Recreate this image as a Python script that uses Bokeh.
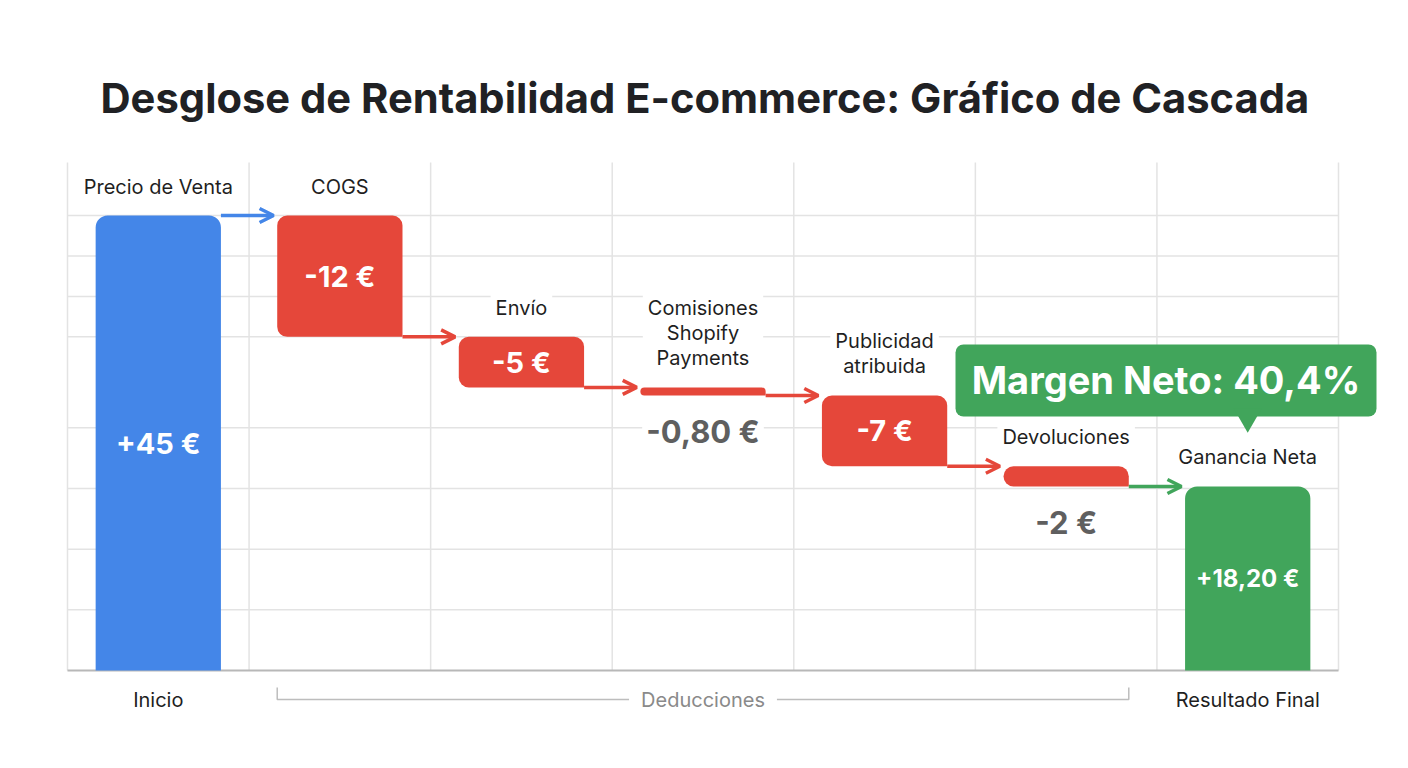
from bokeh.plotting import figure
from bokeh.models import ColumnDataSource, Range1d, Arrow, OpenHead
from bokeh.embed import file_html
from bokeh.resources import INLINE
from bokeh.core.properties import value

# ---------------- data ----------------
categories = ["Precio de Venta", "COGS", "Envío", "Comisiones\nShopify\nPayments",
              "Publicidad\natribuida", "Devoluciones", "Ganancia Neta"]
amounts = [45.0, -12.0, -5.0, -0.80, -7.0, -2.0, 18.20]
step_kind = ["total", "delta", "delta", "delta", "delta", "delta", "total"]
group_labels = ["Inicio", "Deducciones", "Resultado Final"]
group_first = [0, 1, 6]
group_last = [0, 5, 6]
grid_values = [6, 12, 18, 24, 33, 37, 41, 45]
title_text = "Desglose de Rentabilidad E-commerce: Gráfico de Cascada"
margin_prefix = "Margen Neto: "

# ---------------- style ----------------
BLUE, RED, GREEN = "#4486E8", "#E5473A", "#41A55B"
DARK, GREY_TXT, LIGHT_TXT = "#1F1F1F", "#5F5F5F", "#8A8A8A"
GRID, AXIS = "#E3E3E3", "#B8B8B8"
FONT = "Inter"

W, H = 1392, 752
FL, FR, FT, FB = 57, 1380, 150, 722          # frame box (px)
X0_PX, X7_PX = 67, 1338                       # category area (px)
BASE_PX, TALL_PX = 670, 215                   # y=0 and tallest bar top (px)
GRID_TOP_PX = 162
TITLE_LEFT_PX = 100
BAR_W = 0.69

n = len(categories)
px_x = (X7_PX - X0_PX) / n

# running totals
bottoms, tops, levels = [], [], []
running = 0.0
for a, k in zip(amounts, step_kind):
    if k == "total":
        b, t = 0.0, a
        running = a
    else:
        b, t = min(running, running + a), max(running, running + a)
        running = running + a
    bottoms.append(b)
    tops.append(t)
    levels.append(running)

px_y = (BASE_PX - TALL_PX) / max(tops)
x_start = (FL - X0_PX) / px_x
x_end = (FR - X0_PX) / px_x
y_start = (BASE_PX - FB) / px_y
y_end = (BASE_PX - FT) / px_y


def euro(v, plus):
    body = f"{int(abs(v))}" if float(v).is_integer() else f"{abs(v):.2f}".replace(".", ",")
    sign = "-" if v < 0 else ("+" if plus else "")
    return f"{sign}{body} €"


colors = []
for i, k in enumerate(step_kind):
    if k == "delta":
        colors.append(RED)
    else:
        colors.append(BLUE if i == 0 else GREEN)

xs = [i + 0.5 for i in range(n)]
labels = [euro(a, k == "total") for a, k in zip(amounts, step_kind)]

p = figure(width=W, height=H, x_range=Range1d(x_start, x_end), y_range=Range1d(y_start, y_end),
           x_axis_location=None, y_axis_location=None, toolbar_location=None,
           output_backend="svg", min_border_left=FL, min_border_right=W - FR,
           min_border_top=FT, min_border_bottom=H - FB, outline_line_color=None,
           background_fill_color="white", border_fill_color="white")
p.grid.visible = False

p.title.text = title_text
p.title.align = "left"
p.title.offset = TITLE_LEFT_PX - FL
p.title.text_font = FONT
p.title.text_font_size = "41.7px"
p.title.text_font_style = "bold"
p.title.text_color = "#202124"
p.title.standoff = 56

# grid & axis line
grid_top = (BASE_PX - GRID_TOP_PX) / px_y
p.segment(x0=list(range(n + 1)), y0=0, x1=list(range(n + 1)), y1=grid_top,
          line_color=GRID, line_width=1.5)
p.segment(x0=0, y0=grid_values, x1=n, y1=grid_values, line_color=GRID, line_width=1.5)
p.segment(x0=0, y0=0, x1=n, y1=0, line_color=AXIS, line_width=2)

# bars
rows = dict(x=xs, bottom=bottoms, top=tops, color=colors, kind=step_kind)
tot_idx = [i for i in range(n) if step_kind[i] == "total"]
del_idx = [i for i in range(n) if step_kind[i] == "delta"]
src_tot = ColumnDataSource({k: [v[i] for i in tot_idx] for k, v in rows.items()})
src_del = ColumnDataSource({k: [v[i] for i in del_idx] for k, v in rows.items()})
p.vbar(x="x", bottom="bottom", top="top", width=BAR_W, fill_color="color", line_color=None,
       border_radius=(12, 12, 0, 0), source=src_tot)
p.vbar(x="x", bottom="bottom", top="top", width=BAR_W, fill_color="color", line_color=None,
       border_radius=(10, 10, 0, 10), source=src_del)

# connector arrows
half = BAR_W / 2
for i in range(n - 1):
    col = colors[i + 1] if step_kind[i + 1] == "total" else colors[i]
    p.add_layout(Arrow(x_start=xs[i] + half, y_start=levels[i],
                       x_end=xs[i + 1] - half - 0.02, y_end=levels[i],
                       line_color=col, line_width=3.5,
                       end=OpenHead(size=14, line_color=col, line_width=3.5)))

# category labels above bars
p.text(x=xs, y=tops, text=categories, y_offset=-12, text_align="center",
       text_baseline="bottom", text_font=value(FONT), text_font_size="20px",
       text_color=DARK, text_line_height=1.05, background_fill_color="white", padding=5)

# value labels
inside = [i for i in range(n) if (tops[i] - bottoms[i]) * px_y >= 40]
outside = [i for i in range(n) if i not in inside]
p.text(x=[xs[i] for i in inside], y=[(tops[i] + bottoms[i]) / 2 for i in inside],
       text=[labels[i] for i in inside],
       text_font_size=["29px" if len(labels[i]) <= 5 else "24px" for i in inside],
       text_align="center", text_baseline="middle", text_font=value(FONT),
       text_font_style="bold", text_color="white")
p.text(x=[xs[i] for i in outside], y=[bottoms[i] for i in outside],
       text=[labels[i] for i in outside], y_offset=14, text_align="center",
       text_baseline="top", text_font=value(FONT), text_font_style="bold",
       text_font_size="31px", text_color=GREY_TXT, background_fill_color="white", padding=4)

# group labels below axis + bracket
line_y = -29 / px_y
tick_y = -17 / px_y
for lab, f, l in zip(group_labels, group_first, group_last):
    cx = (xs[f] + xs[l]) / 2
    if f != l:
        xl, xr = xs[f] - half, xs[l] + half
        p.line(x=[xl, xl, xr, xr], y=[tick_y, line_y, line_y, tick_y],
               line_color="#BDBDBD", line_width=1.5)
        p.text(x=[cx], y=[0], text=[lab], y_offset=29, text_align="center",
               text_baseline="middle", text_font=value(FONT), text_font_size="20px",
               text_color=LIGHT_TXT, background_fill_color="white", padding=12)
    else:
        p.text(x=[cx], y=[0], text=[lab], y_offset=29, text_align="center",
               text_baseline="middle", text_font=value(FONT), text_font_size="20px",
               text_color=DARK)

# net margin badge
margin_pct = 100 * amounts[-1] / amounts[0]
badge_text = margin_prefix + f"{margin_pct:.1f}".replace(".", ",") + "%"
badge_cx = xs[-1] - 0.45
badge_w = 421 / px_x
badge_bottom = tops[-1] + 70 / px_y
badge_top = badge_bottom + 72 / px_y
p.quad(left=[badge_cx - badge_w / 2], right=[badge_cx + badge_w / 2],
       bottom=[badge_bottom], top=[badge_top], fill_color=GREEN, line_color=None,
       border_radius=8)
p.scatter(x=[xs[-1]], y=[badge_bottom], marker="inverted_triangle", size=28,
          fill_color=GREEN, line_color=None)
p.text(x=[badge_cx], y=[(badge_bottom + badge_top) / 2], text=[badge_text],
       text_align="center", text_baseline="middle", text_font=value(FONT),
       text_font_style="bold", text_font_size="38px", text_color="white")

open("out.html", "w").write(file_html(p, INLINE))
